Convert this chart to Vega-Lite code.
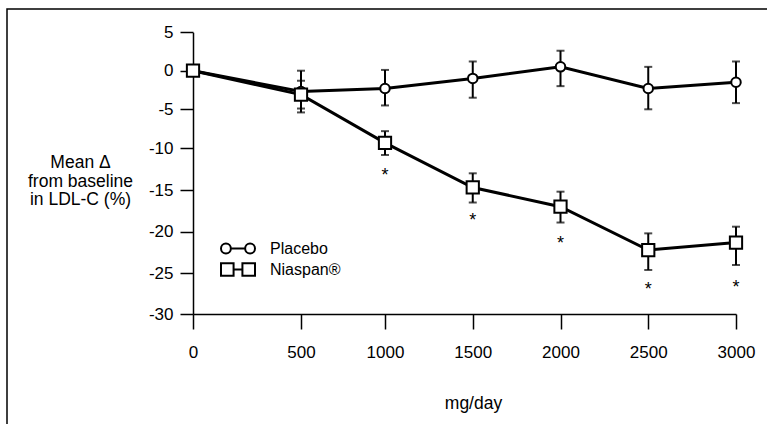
{
  "$schema": "https://vega.github.io/schema/vega-lite/v6.json",
  "width": 761,
  "height": 416,
  "autosize": {"type": "none"},
  "padding": {"left": 7, "top": 9, "right": 0, "bottom": 0},
  "background": "white",
  "config": {
    "view": {"stroke": "black", "strokeWidth": 1.5},
    "font": "Liberation Sans",
    "axis": {
      "grid": false,
      "domainColor": "black",
      "domainWidth": 1.5,
      "tickColor": "black",
      "tickWidth": 1.5,
      "labelFont": "Liberation Sans",
      "labelFontSize": 17,
      "labelColor": "black",
      "titleFont": "Liberation Sans",
      "titleFontSize": 17.5,
      "titleFontWeight": "normal",
      "titleColor": "black",
      "labelFlush": false,
      "labelOverlap": false,
      "labelExpr": "datum.value + ''"
    }
  },
  "data": {
    "values": [
      {"series": "Placebo", "dose": 0, "mean": 0, "lo": null, "hi": null, "star": null},
      {"series": "Placebo", "dose": 500, "mean": -2.7, "lo": -5.4, "hi": 0.0, "star": null},
      {"series": "Placebo", "dose": 1000, "mean": -2.3, "lo": -4.5, "hi": 0.1, "star": null},
      {"series": "Placebo", "dose": 1500, "mean": -1.0, "lo": -3.5, "hi": 1.2, "star": null},
      {"series": "Placebo", "dose": 2000, "mean": 0.5, "lo": -2.0, "hi": 2.6, "star": null},
      {"series": "Placebo", "dose": 2500, "mean": -2.3, "lo": -5.0, "hi": 0.5, "star": null},
      {"series": "Placebo", "dose": 3000, "mean": -1.5, "lo": -4.2, "hi": 1.2, "star": null},
      {"series": "Niaspan®", "dose": 0, "mean": 0, "lo": null, "hi": null, "star": null},
      {"series": "Niaspan®", "dose": 500, "mean": -3.1, "lo": -4.9, "hi": -1.3, "star": null},
      {"series": "Niaspan®", "dose": 1000, "mean": -9.3, "lo": -10.8, "hi": -7.8, "star": -13.0},
      {"series": "Niaspan®", "dose": 1500, "mean": -14.7, "lo": -16.5, "hi": -13.0, "star": -18.4},
      {"series": "Niaspan®", "dose": 2000, "mean": -17.0, "lo": -18.9, "hi": -15.2, "star": -21.1},
      {"series": "Niaspan®", "dose": 2500, "mean": -22.2, "lo": -24.6, "hi": -20.2, "star": -26.7},
      {"series": "Niaspan®", "dose": 3000, "mean": -21.3, "lo": -24.0, "hi": -19.4, "star": -26.4}
    ]
  },
  "encoding": {
    "x": {
      "field": "dose",
      "type": "quantitative",
      "scale": {"type": "linear", "domain": [0, 500, 1000, 3000], "range": [186, 294, 378, 729], "nice": false, "zero": false},
      "axis": {
        "values": [0, 500, 1000, 1500, 2000, 2500, 3000],
        "offset": -111,
        "tickSize": 15,
        "labelPadding": 15,
        "title": "mg/day",
        "titleX": 466,
        "titleY": 89,
        "titleBaseline": "middle",
        "titleAlign": "center"
      }
    },
    "y": {
      "field": "mean",
      "type": "quantitative",
      "scale": {"type": "linear", "domain": [-30, -25, -20, -15, -10, -5, 0, 5], "range": [305, 264.3, 222.7, 181, 139.3, 100.3, 61.7, 23.3], "nice": false, "zero": false},
      "axis": {
        "values": [-30, -25, -20, -15, -10, -5, 0, 5],
        "offset": -186,
        "tickSize": 13,
        "labelPadding": 7,
        "title": ["Mean Δ", "from baseline", "in LDL-C (%)"],
        "titleAngle": 0,
        "titleAlign": "center",
        "titleBaseline": "middle",
        "titleX": -113,
        "titleY": 153.5,
        "titleLineHeight": 18.5
      }
    }
  },
  "layer": [
    {
      "data": {"values": [{"ref": 0}]},
      "mark": {"type": "rule", "color": "black", "strokeWidth": 1},
      "encoding": {
        "x": {"datum": 0, "type": "quantitative"},
        "x2": {"datum": 3000},
        "y": {"datum": 0, "type": "quantitative"}
      }
    },
    {
      "mark": {"type": "rule", "color": "black", "strokeWidth": 2},
      "encoding": {
        "y": {"field": "lo", "type": "quantitative"},
        "y2": {"field": "hi"}
      }
    },
    {
      "mark": {"type": "tick", "color": "black", "orient": "horizontal", "size": 8, "thickness": 2},
      "encoding": {
        "y": {"field": "lo", "type": "quantitative"}
      }
    },
    {
      "mark": {"type": "tick", "color": "black", "orient": "horizontal", "size": 8, "thickness": 2},
      "encoding": {
        "y": {"field": "hi", "type": "quantitative"}
      }
    },
    {
      "mark": {"type": "line", "color": "black", "strokeWidth": 3},
      "encoding": {
        "detail": {"field": "series", "type": "nominal"}
      }
    },
    {
      "mark": {"type": "point", "opacity": 0},
      "encoding": {
        "shape": {
          "field": "series",
          "type": "nominal",
          "scale": {
            "domain": ["Placebo", "Niaspan®"],
            "range": [
              "M -1 0 A 0.29 0.29 0 1 1 -0.42 0 A 0.29 0.29 0 1 1 -1 0 Z M -0.42 0 L 0.42 0 M 0.42 0 A 0.29 0.29 0 1 1 1 0 A 0.29 0.29 0 1 1 0.42 0 Z",
              "M -1 -0.37 L -0.26 -0.37 L -0.26 0.37 L -1 0.37 Z M -0.26 0 L 0.26 0 M 0.26 -0.37 L 1 -0.37 L 1 0.37 L 0.26 0.37 Z"
            ]
          },
          "legend": {
            "orient": "none",
            "legendX": 213,
            "legendY": 229,
            "title": null,
            "labelFont": "Liberation Sans",
            "labelFontSize": 16,
            "labelColor": "black",
            "labelOffset": 14,
            "symbolSize": 1156,
            "symbolStrokeWidth": 2,
            "symbolFillColor": "white",
            "symbolStrokeColor": "black",
            "symbolOpacity": 1,
            "rowPadding": 0,
            "clipHeight": 21
          }
        }
      }
    },
    {
      "mark": {"type": "point", "filled": true, "fill": "white", "stroke": "black", "strokeWidth": 2, "opacity": 1},
      "encoding": {
        "shape": {
          "field": "series",
          "type": "nominal",
          "scale": {"domain": ["Placebo", "Niaspan®"], "range": ["circle", "square"]},
          "legend": null
        },
        "size": {
          "field": "series",
          "type": "nominal",
          "scale": {"domain": ["Placebo", "Niaspan®"], "range": [90, 150]},
          "legend": null
        }
      }
    },
    {
      "transform": [{"filter": "datum.star != null"}],
      "mark": {"type": "text", "text": "*", "fontSize": 18, "font": "Liberation Sans", "color": "black", "baseline": "middle", "dy": 3},
      "encoding": {
        "y": {"field": "star", "type": "quantitative"}
      }
    }
  ],
  "resolve": {
    "scale": {"shape": "independent", "size": "independent"},
    "legend": {"shape": "independent", "size": "independent"}
  }
}
